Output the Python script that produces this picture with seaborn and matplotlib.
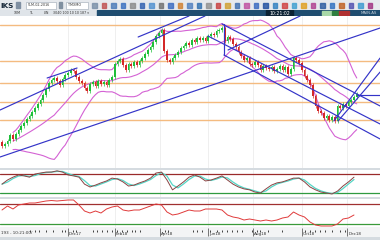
import numpy as np
import pandas as pd
import matplotlib
matplotlib.use("Agg")
import matplotlib.pyplot as plt
from matplotlib.patches import Rectangle
import seaborn as sns

# ---------------- data ----------------
first_open = 26
closes = [22, 24, 27, 33, 29, 34, 38, 42, 45, 49, 52, 56, 60, 64, 68, 73, 79, 85, 88, 90,
          87, 83, 89, 93, 95, 98, 97, 91, 87, 85, 80, 77, 84, 86, 82, 87, 84, 86, 83, 88,
          91, 104, 107, 109, 103, 98, 104, 102, 106, 103, 107, 110, 114, 118, 121, 126, 132, 135, 138, 117,
          108, 106, 110, 113, 116, 120, 122, 125, 123, 128, 126, 130, 128, 130, 127, 132, 134, 133, 137, 138,
          140, 127, 131, 129, 124, 121, 116, 112, 108, 110, 104, 103, 106, 103, 98, 102, 100, 99, 101, 97,
          99, 102, 98, 101, 94, 99, 110, 108, 105, 98, 92, 88, 83, 72, 62, 57, 55, 50, 52, 48,
          51, 47, 62, 60, 64, 62, 66, 68, 71, 74]

# oscillators sampled every second bar
stoch_k = [48, 61, 70, 77, 74, 70, 80, 83, 86, 86, 90, 86, 77, 74, 70, 48, 39, 45, 52, 58,
           67, 64, 55, 42, 45, 52, 58, 67, 83, 86, 61, 30, 42, 55, 70, 77, 70, 58, 61, 67,
           74, 61, 48, 39, 33, 30, 23, 20, 33, 45, 52, 55, 61, 67, 67, 55, 39, 30, 23, 20,
           17, 26, 42, 55, 70]
rsi = [58, 66, 60, 68, 70, 72, 72, 74, 76, 77, 76, 77, 78, 78, 68, 56, 52, 56, 52, 60,
       64, 66, 58, 56, 58, 58, 62, 66, 70, 68, 54, 48, 50, 54, 58, 56, 56, 60, 60, 60,
       58, 48, 44, 42, 38, 40, 38, 36, 38, 36, 38, 42, 44, 54, 48, 44, 34, 28, 26, 26,
       26, 30, 40, 42, 48]

levels = [143, 107, 85, 66, 48]          # horizontal support / resistance
stoch_levels = [80, 20]
rsi_levels = [70, 30]

# trend lines: (bar0, price0, bar1, price1)
tl_t0 = [-0.7, -0.7, 49.5, 16.4, 82.2, 80.0, 74.9, 80.7, 80.7, 120.7, 122.2, 129.1]
tl_p0 = [58, 11, 131, 90, 118, 144, 132, 113, 144, 47, 47, 73]
tl_t1 = [73.8, 137.5, 68.0, 27.3, 108.4, 137.5, 137.5, 137.5, 80.7, 137.5, 137.5, 137.5]
tl_p1 = [152, 140, 152, 100, 152, 62, 44, 29, 113, 110, 96, 73]

date_labels = ["Dec17", "Feb18", "Apr18", "Jun18", "Aug18", "Oct18", "Dec18"]
date_idx = [24, 41.1, 57.5, 74.9, 91.3, 109.1, 125.5]
minor_idx = [10, 12, 13.5, 16, 18.5, 21.8, 23, 25.8, 27, 33, 34.5, 36.4, 38.2, 40, 41.8,
             43.6, 45.5, 47.3, 48.4, 50.2, 59.3, 60.4, 69.5, 71, 72.7, 75.6, 78.2, 80,
             81.8, 83.6, 85.5, 87.3, 90.9, 92.7, 93.8, 96.7, 101.8, 110.2, 112, 113.8,
             115.6, 117.5, 120, 122.9, 124.7]

# ---------------- derived ----------------
idx = np.arange(len(closes))
c = np.array(closes, float)
o = np.concatenate([[first_open], c[:-1]])
s = pd.Series(c)
mid = s.rolling(20, min_periods=5).mean()
sd = s.rolling(20, min_periods=5).std()
bands = pd.DataFrame({"bar": idx, "upper": mid + 2 * sd, "mid": mid, "lower": mid - 2 * sd})

osc_idx = np.arange(0, len(closes), 2)[:len(stoch_k)]
osc = pd.DataFrame({"bar": osc_idx, "k": stoch_k, "rsi": rsi})
osc["d"] = osc["k"].rolling(2, min_periods=1).mean()

# ---------------- figure ----------------
sns.set_style("white")
plt.rcParams['font.family'] = ['DejaVu Sans']
W, H = 380, 240
fig = plt.figure(figsize=(3.8, 2.4), dpi=100, facecolor="#d5dbe0")


def px_axes(x0, y0, x1, y1):
    return fig.add_axes([x0 / W, 1 - y1 / H, (x1 - x0) / W, (y1 - y0) / H])


XLO, XHI = -2 / 2.75, 378 / 2.75

# toolbar
tb = px_axes(0, 0, 380, 10)
tb.set_xlim(0, 380); tb.set_ylim(10, 0); tb.axis("off")
tb.add_patch(Rectangle((0, 0), 380, 10, color="#e6e9ed"))
tb.text(0.5, 5.5, "IKS", fontsize=5.2, fontweight="bold", color="#1b2b3b", va="center")
tb.add_patch(Rectangle((16, 2), 4, 6, color="#7f8fa2"))
tb.add_patch(Rectangle((26, 1.5), 30, 7, facecolor="white", edgecolor="#9aa6b2", lw=0.4))
tb.text(27.5, 5.2, "5LM-02-2016", fontsize=2.4, color="#333", va="center")
tb.add_patch(Rectangle((59, 2), 3, 6, color="#8090a0"))
tb.add_patch(Rectangle((66, 1.5), 22, 7, facecolor="white", edgecolor="#9aa6b2", lw=0.4))
tb.text(67.5, 5.2, "TMXMO", fontsize=2.4, color="#333", va="center")
icon_cols = ['#7a8fa8', '#c05050', '#4a7ab8', '#3a70c0', '#8a8a8a', '#3060b0', '#5090d0',
             '#707070', '#3a6ac0', '#d08030', '#5080c0', '#3070b0', '#909090', '#c84040',
             '#d0a030', '#4070b0', '#c050a0', '#3a6ac0', '#2050a0', '#3080c0', '#d04040',
             '#40a0d0', '#e0a020', '#b04090', '#2a5aa0', '#3070c0', '#c06020', '#5050b0',
             '#3a9ad0', '#a03080']
for k, col in enumerate(icon_cols):
    tb.add_patch(Rectangle((92 + 9.5 * k, 2.5), 4.5, 5, color=col, alpha=0.8))

# second header row
hb = px_axes(0, 10, 380, 16)
hb.set_xlim(0, 380); hb.set_ylim(6, 0); hb.axis("off")
hb.add_patch(Rectangle((0, 0), 97, 6, color="#dfe4e9"))
hb.add_patch(Rectangle((97, 0), 283, 6, color="#1f4d70"))
for xx, t in [(14, "10M"), (30, "TL"), (44, "LIN"), (53, "3040 100 10 10 187 \u25be")]:
    hb.text(xx, 3.3, t, fontsize=2.3, color="#333", va="center")
hb.add_patch(Rectangle((266, 0.3), 27, 5.4, color="#0c2234"))
hb.text(279.5, 3.2, "10:21:02", fontsize=3.3, color="white", ha="center", va="center")
hb.add_patch(Rectangle((322, 1), 10, 4, color="#a8d8a8"))
hb.add_patch(Rectangle((332, 1), 7, 4, color="#2f7f3f"))
hb.add_patch(Rectangle((339, 1), 10, 4, color="#b03030"))
hb.text(361, 3.3, "MAIN.AS", fontsize=2.8, color="#c8d2dc", va="center")

# main price panel
ax = px_axes(0, 16, 380, 168)
ax.set_facecolor("white")
for x in date_idx:
    ax.axvline(x, color="#ececec", lw=0.6, zorder=0)
for lv in levels:
    ax.axhline(lv, color="#f4bb80", lw=1.0, zorder=1)
for col in ["upper", "mid", "lower"]:
    sns.lineplot(data=bands, x="bar", y=col, ax=ax, color="#d462d4", lw=0.8, zorder=2)
up = c >= o
colors = np.where(up, "#1fbf3a", "#d42828")
body_lo = np.minimum(o, c)
body_h = np.maximum(np.abs(c - o), 1.2)
ax.vlines(idx, body_lo - 2.2, body_lo + body_h + 2.2, colors=colors, lw=0.5, zorder=3)
ax.bar(idx, body_h, bottom=body_lo, width=0.72, color=colors, zorder=3, linewidth=0)
for a0, b0, a1_, b1 in zip(tl_t0, tl_p0, tl_t1, tl_p1):
    ax.plot([a0, a1_], [b0, b1], color="#3434c8", lw=0.85, zorder=4)
ax.set_xlim(XLO, XHI); ax.set_ylim(0, 152)
ax.set_xticks([]); ax.set_yticks([]); ax.set_xlabel(""); ax.set_ylabel("")
for sp in ax.spines.values():
    sp.set_visible(False)

# stochastic panel
a1 = px_axes(0, 170, 380, 197)
a1.set_facecolor("white")
for x in date_idx:
    a1.axvline(x, color="#ececec", lw=0.6, zorder=0)
a1.axhline(stoch_levels[0], color="#9a2a2a", lw=0.9)
a1.axhline(stoch_levels[1], color="#2f9a3f", lw=0.9)
sns.lineplot(data=osc, x="bar", y="d", ax=a1, color="#55d6c6", lw=0.9)
sns.lineplot(data=osc, x="bar", y="k", ax=a1, color="#8a4444", lw=0.7)
a1.set_xlim(XLO, XHI); a1.set_ylim(7.4, 92.6)

# rsi panel
a2 = px_axes(0, 199, 380, 227)
a2.set_facecolor("white")
for x in date_idx:
    a2.axvline(x, color="#ececec", lw=0.6, zorder=0)
a2.axhline(rsi_levels[0], color="#a03030", lw=0.9)
a2.axhline(rsi_levels[1], color="#3a9a3a", lw=0.9)
sns.lineplot(data=osc, x="bar", y="rsi", ax=a2, color="#e03a3a", lw=0.7)
a2.set_xlim(XLO, XHI); a2.set_ylim(24, 80)

for a in (a1, a2):
    a.set_xticks([]); a.set_yticks([]); a.set_xlabel(""); a.set_ylabel("")
    for sp in a.spines.values():
        sp.set_visible(False)

# date strip
ad = px_axes(0, 227, 380, 237)
ad.set_facecolor("#f3f4f5")
ad.set_xlim(XLO, XHI); ad.set_ylim(10, 0)
for sp in ad.spines.values():
    sp.set_visible(False)
ad.set_xticks([]); ad.set_yticks([])
ad.vlines(minor_idx, 3.2, 4.8, colors="#222", lw=0.6)
for x, t in zip(date_idx, date_labels):
    ad.vlines([x], 1, 9, colors="#444", lw=0.5)
    ad.text(x + 0.4, 7.2, t, fontsize=3.0, color="#333", va="center")
ad.text(XLO + 0.3, 5.5, "193 - 10:21:00/", fontsize=3.0, color="#333", va="center")

fig.savefig("out.png", dpi=100, facecolor=fig.get_facecolor())
